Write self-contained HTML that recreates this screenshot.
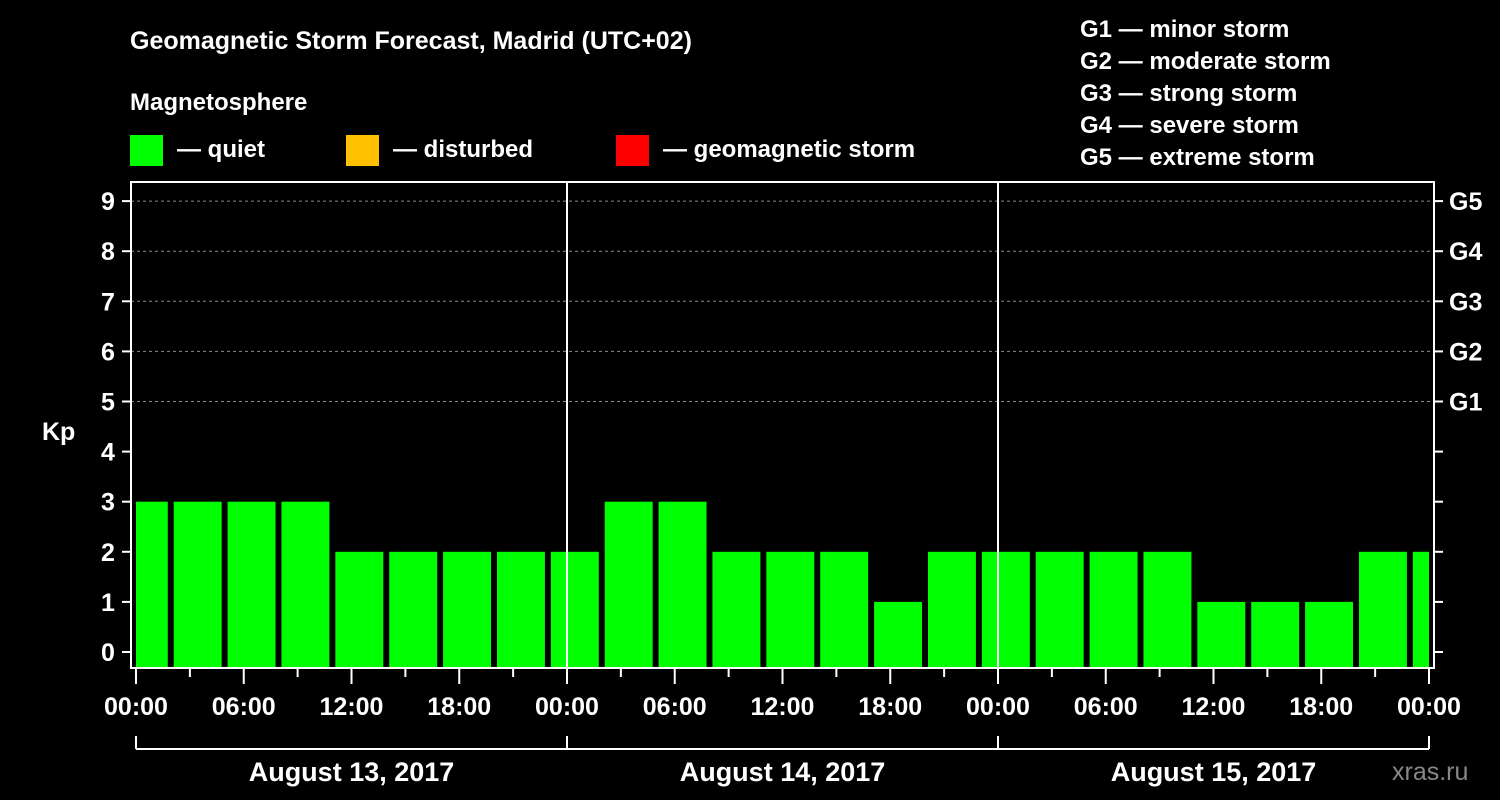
<!DOCTYPE html>
<html><head><meta charset="utf-8"><style>
html,body{margin:0;padding:0;background:#000;}
svg{display:block;font-family:"Liberation Sans",Arial,sans-serif;font-weight:bold;}
</style></head><body>
<svg id="chart" width="1500" height="800" viewBox="0 0 1500 800" xmlns="http://www.w3.org/2000/svg">
<rect width="1500" height="800" fill="#000"/>
<text x="130" y="49" fill="#fff" font-size="25">Geomagnetic Storm Forecast, Madrid (UTC+02)</text>
<text x="130" y="110" fill="#fff" font-size="24">Magnetosphere</text>
<g><rect x="130" y="135" width="33" height="31" fill="#00ff00"/><text x="177" y="157" fill="#fff" font-size="24">— quiet</text></g>
<g><rect x="346" y="135" width="33" height="31" fill="#ffc000"/><text x="393" y="157" fill="#fff" font-size="24">— disturbed</text></g>
<g><rect x="616" y="135" width="33" height="31" fill="#ff0000"/><text x="663" y="157" fill="#fff" font-size="24">— geomagnetic storm</text></g>
<g fill="#fff" font-size="24">
<text x="1080" y="37">G1 — minor storm</text>
<text x="1080" y="69">G2 — moderate storm</text>
<text x="1080" y="101">G3 — strong storm</text>
<text x="1080" y="133">G4 — severe storm</text>
<text x="1080" y="165">G5 — extreme storm</text>
</g>
<text x="42" y="440" fill="#fff" font-size="25">Kp</text>
<g id="grid"></g><g id="bars"></g><g id="axes"></g>
<text x="1392" y="780" fill="#888" font-size="25" font-weight="normal">xras.ru</text>
</svg>
<script>
const kpValues=[3,3,3,3,2,2,2,2,2,3,3,2,2,2,1,2,2,2,2,2,1,1,1,2,2];
const barStartHours=[-0.9,2.1,5.1,8.1,11.1,14.1,17.1,20.1,23.1,26.1,29.1,32.1,35.1,38.1,41.1,44.1,47.1,50.1,53.1,56.1,59.1,62.1,65.1,68.1,71.1];
const dayLabels=["August 13, 2017","August 14, 2017","August 15, 2017"];
const timeLabels=["00:00","06:00","12:00","18:00"];
const gLabels=["G1","G2","G3","G4","G5"];
const NS="http://www.w3.org/2000/svg";
const X0=136,X1=1429,H=72;
const x=h=>X0+(X1-X0)*h/H;
const y=v=>652-v*50.1;
function mk(tag,attrs,parent,txt){const e=document.createElementNS(NS,tag);for(const k in attrs)e.setAttribute(k,attrs[k]);if(txt!==undefined)e.textContent=txt;parent.appendChild(e);return e;}
const grid=document.getElementById('grid'),bars=document.getElementById('bars'),axes=document.getElementById('axes');
for(let v=5;v<=9;v++){const l=mk('line',{x1:131,x2:1434,y1:y(v),y2:y(v),stroke:'#888','stroke-dasharray':'3,3','stroke-width':1},grid);

}
const barW=2.67;
kpValues.forEach((v,i)=>{let s=Math.max(0,barStartHours[i]),e=Math.min(H,barStartHours[i]+barW);
const c=v>=5?'#ff0000':(v>=4?'#ffc000':'#00ff00');
const r=mk('rect',{x:x(s),y:y(v),width:x(e)-x(s),height:668-y(v),fill:c},bars);

});
// frame
mk('rect',{x:131,y:182,width:1303,height:486,fill:'none',stroke:'#fff','stroke-width':2},axes);
[24,48].forEach(h=>{const l=mk('line',{x1:x(h),x2:x(h),y1:182,y2:668,stroke:'#fff','stroke-width':2},axes);

});
for(let v=0;v<=9;v++){mk('line',{x1:122,x2:131,y1:y(v),y2:y(v),stroke:'#fff','stroke-width':2},axes);
mk('line',{x1:1434,x2:1443,y1:y(v),y2:y(v),stroke:'#fff','stroke-width':2},axes);
const t=mk('text',{x:108,y:y(v)+9,fill:'#fff','font-size':25,'text-anchor':'middle'},axes,String(v));

}
gLabels.forEach((g,i)=>{const t=mk('text',{x:1449,y:y(5+i)+9,fill:'#fff','font-size':25},axes,g);

});
for(let h=0;h<=72;h+=3){const long=h%6===0;mk('line',{x1:x(h),x2:x(h),y1:668,y2:long?684:677,stroke:'#fff','stroke-width':2},axes);
if(long){const t=mk('text',{x:x(h),y:715,fill:'#fff','font-size':25,'text-anchor':'middle'},axes,timeLabels[(h/6)%4]);

}}
mk('line',{x1:X0,x2:X1,y1:749,y2:749,stroke:'#fff','stroke-width':2},axes);
[0,24,48,72].forEach(h=>mk('line',{x1:x(h),x2:x(h),y1:736,y2:749,stroke:'#fff','stroke-width':2},axes));
dayLabels.forEach((d,i)=>{const t=mk('text',{x:x(i*24+12),y:781,fill:'#fff','font-size':27,'text-anchor':'middle'},axes,d);

});
</script>
</body></html>
